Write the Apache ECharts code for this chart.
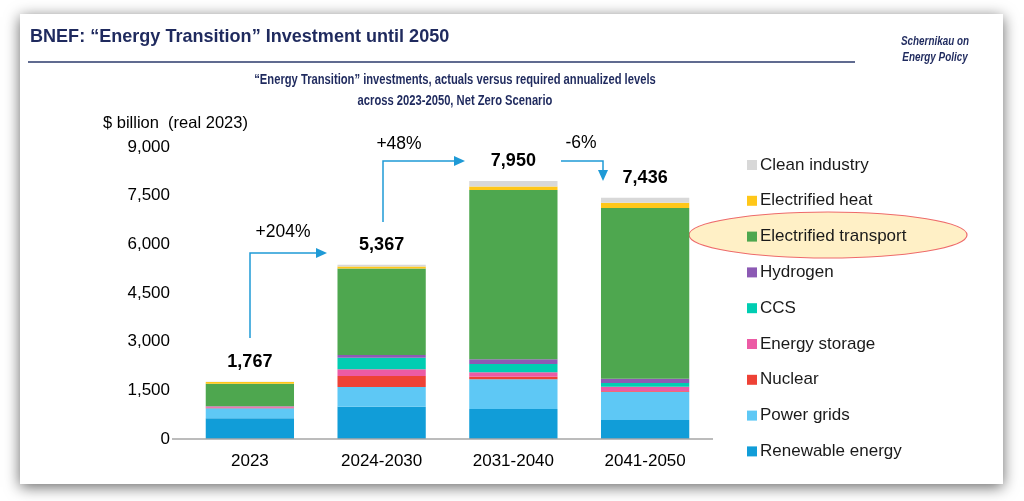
<!DOCTYPE html>
<html><head><meta charset="utf-8">
<script src="https://cdn.jsdelivr.net/npm/echarts@6/dist/echarts.min.js"></script>
<style>html,body{margin:0;padding:0;background:#fff}#c{width:1024px;height:501px}</style>
</head><body><div id="c"></div>
<script>
const categories = ['2023', '2024-2030', '2031-2040', '2041-2050'];
const renewable = [640, 995, 925, 585];
const powerGrids = [310, 606, 915, 863];
const nuclear = [10, 339, 82, 20];
const energyStorage = [40, 206, 133, 144];
const ccs = [5, 360, 257, 113];
const hydrogen = [5, 82, 144, 134];
const transport = [690, 2667, 5216, 5259];
const heat = [60, 62, 113, 164];
const cleanIndustry = [7, 50, 165, 154];
const totalLabels = ['1,767', '5,367', '7,950', '7,436'];
const yTicks = [0, 1500, 3000, 4500, 6000, 7500, 9000];
const changeLabels = ['+204%', '+48%', '-6%'];

const seriesDefs = [
  ['Renewable energy', renewable, '#119DD8'],
  ['Power grids', powerGrids, '#5EC8F5'],
  ['Nuclear', nuclear, '#EE4236'],
  ['Energy storage', energyStorage, '#EC5BA5'],
  ['CCS', ccs, '#00CDB2'],
  ['Hydrogen', hydrogen, '#8C5AB4'],
  ['Electrified transport', transport, '#4EA74F'],
  ['Electrified heat', heat, '#FFC719'],
  ['Clean industry', cleanIndustry, '#D8D8D8']
];
const FONT = '"Liberation Sans", Arial, sans-serif';

const series = seriesDefs.map(([name, data, color], i) => ({
  name, type: 'bar', stack: 'total', data, barWidth: '67%',
  itemStyle: { color },
  label: i === seriesDefs.length - 1 ? {
    show: true, position: 'top', distance: 11,
    formatter: p => totalLabels[p.dataIndex],
    fontFamily: FONT, fontWeight: 'bold', fontSize: 18, color: '#000'
  } : { show: false },
  emphasis: { disabled: true }
}));

const arrowColor = '#1F9AD6';
function arrow(points, head) {
  return [
    { type: 'polyline', shape: { points }, style: { stroke: arrowColor, lineWidth: 1.5, fill: null }, z: 10 },
    { type: 'polygon', shape: { points: head }, style: { fill: arrowColor }, z: 10 }
  ];
}
function txt(x, y, text, font, fill, sx, align) {
  return { type: 'text', x, y, scaleX: sx || 1, style: { text, font, fill, align: align || 'center', verticalAlign: 'middle' }, z: 10 };
}

const chart = echarts.init(document.getElementById('c'));
chart.setOption({
  backgroundColor: '#fff',
  animation: false,
  grid: { left: 184, right: 313, top: 147, bottom: 62 },
  xAxis: {
    type: 'category', data: categories,
    axisLine: { show: false },
    axisTick: { show: false },
    axisLabel: { fontFamily: FONT, fontSize: 17, color: '#000', margin: 14 }
  },
  yAxis: {
    type: 'value', min: yTicks[0], max: yTicks[yTicks.length - 1], interval: yTicks[1] - yTicks[0],
    splitLine: { show: false }, axisLine: { show: false }, axisTick: { show: false },
    axisLabel: { fontFamily: FONT, fontSize: 17, color: '#000', margin: 14,
      formatter: v => v.toLocaleString('en-US') }
  },
  legend: {
    orient: 'vertical', left: 747, top: 156, padding: 0, itemWidth: 10, itemHeight: 10, itemGap: 17.8,
    icon: 'rect', selectedMode: false,
    data: seriesDefs.map(d => d[0]).reverse(),
    textStyle: { fontFamily: FONT, fontSize: 17, color: '#1a1a1a', lineHeight: 18, padding: [0, 0, 0, -2] }
  },
  graphic: [
    { type: 'rect', shape: { x: 20, y: 14, width: 983, height: 470 },
      style: { fill: '#fff', shadowBlur: 14, shadowColor: 'rgba(0,0,0,0.6)', shadowOffsetX: 0, shadowOffsetY: 3 }, z: -10 },
    txt(30, 37, 'BNEF: \u201CEnergy Transition\u201D Investment until 2050', 'bold 19px ' + FONT, '#1F2A5E', 0.95, 'left'),
    { type: 'line', shape: { x1: 28, y1: 62, x2: 855, y2: 62 }, style: { stroke: '#2B3A6B', lineWidth: 1.5 } },
    txt(935, 41, 'Schernikau on', 'italic bold 13px ' + FONT, '#1F2A5E', 0.76),
    txt(935, 57, 'Energy Policy', 'italic bold 13px ' + FONT, '#1F2A5E', 0.76),
    txt(455, 80, '\u201CEnergy Transition\u201D investments, actuals versus required annualized levels', 'bold 14px ' + FONT, '#1F2A5E', 0.8),
    txt(455, 101, 'across 2023-2050, Net Zero Scenario', 'bold 14px ' + FONT, '#1F2A5E', 0.8),
    txt(103, 123, '$ billion  (real 2023)', '16.5px ' + FONT, '#000', 1, 'left'),
    { type: 'line', shape: { x1: 172, y1: 439, x2: 713, y2: 439 }, style: { stroke: '#A6A6A6', lineWidth: 1.5 }, z: 5 },
    { type: 'ellipse', shape: { cx: 828, cy: 235, rx: 139, ry: 23 }, style: { fill: '#FFF0C6', stroke: '#EE6B6B', lineWidth: 1.2 }, z: -1 },
    ...arrow([[250, 338], [250, 253], [318, 253]], [[327, 253], [316, 248], [316, 258]]),
    ...arrow([[383, 222], [383, 161], [456, 161]], [[465, 161], [454, 156], [454, 166]]),
    ...arrow([[561, 161], [603, 161], [603, 172]], [[603, 181], [598, 170], [608, 170]]),
    txt(283, 232, changeLabels[0], '17.5px ' + FONT, '#000'),
    txt(399, 144, changeLabels[1], '17.5px ' + FONT, '#000'),
    txt(581, 143, changeLabels[2], '17.5px ' + FONT, '#000')
  ],
  series
});
</script></body></html>
